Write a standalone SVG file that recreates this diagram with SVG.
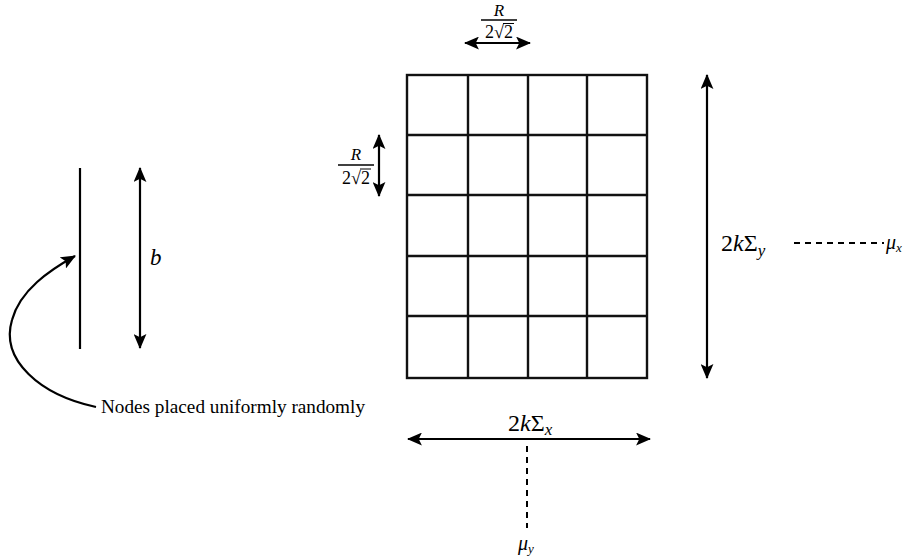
<svg xmlns="http://www.w3.org/2000/svg" width="917" height="556" viewBox="0 0 917 556">
<style>
.ln{stroke:#000;stroke-width:2.2;fill:none}
.grid{stroke:#111;stroke-width:2.4;fill:none}
.dash{stroke:#000;stroke-width:2;fill:none;stroke-dasharray:6,5}
.t{font-family:"Liberation Serif","DejaVu Serif","Times New Roman",serif;fill:#000}
.m{font-family:"Liberation Serif","DejaVu Serif","Times New Roman",serif;font-style:italic;fill:#000}
.r{font-family:"Liberation Serif","DejaVu Serif","Times New Roman",serif;fill:#000}
</style>
<defs>
<marker id="ahb" viewBox="0 0 14 12" refX="13" refY="6" markerWidth="15" markerHeight="13" markerUnits="userSpaceOnUse" orient="auto-start-reverse">
<path d="M0,0 L14,6 L0,12 L3,6 Z" fill="#000"/>
</marker>
</defs>
<g id="grid">
<rect class="grid" x="407" y="75" width="240" height="303"/>
<path class="grid" d="M468,75V378M528,75V378M587,75V378M407,135H647M407,195H647M407,256H647M407,316H647"/>
</g>
<g id="nodes-line">
<line class="ln" x1="80" y1="168" x2="80" y2="349"/>
</g>
<g id="label-nodes">
<text class="t" x="101" y="413" font-size="18" textLength="264" lengthAdjust="spacingAndGlyphs">Nodes placed uniformly randomly</text>
</g>
<g id="connectors">
<line class="ln" x1="140" y1="168" x2="140" y2="348" marker-start="url(#ahb)" marker-end="url(#ahb)"/>
<path class="ln" d="M96,407 C40,395 0,360 12,320 C20,290 50,270 75,256" marker-end="url(#ahb)"/>
<line class="ln" x1="465" y1="43" x2="530" y2="43" marker-start="url(#ahb)" marker-end="url(#ahb)"/>
<line class="ln" x1="379" y1="135" x2="379" y2="196" marker-start="url(#ahb)" marker-end="url(#ahb)"/>
<line class="ln" x1="707" y1="75" x2="707" y2="378" marker-start="url(#ahb)" marker-end="url(#ahb)"/>
<line class="ln" x1="408" y1="439" x2="650" y2="439" marker-start="url(#ahb)" marker-end="url(#ahb)"/>
<line class="dash" x1="794" y1="243" x2="884" y2="243"/>
<line class="dash" x1="527" y1="446" x2="527" y2="528"/>
</g>
<g id="labels">
<text class="m" x="150" y="265" font-size="23">b</text>
<g id="frac-top">
<text class="m" x="499" y="16" font-size="17" text-anchor="middle">R</text>
<line x1="481" y1="20" x2="517" y2="20" stroke="#000" stroke-width="1.3"/>
<text class="r" x="499" y="38" font-size="18" text-anchor="middle">2√2</text>
<line x1="503" y1="23.5" x2="514" y2="23.5" stroke="#000" stroke-width="1"/>
</g>
<g id="frac-left">
<text class="m" x="356" y="160" font-size="17" text-anchor="middle">R</text>
<line x1="338" y1="165" x2="374" y2="165" stroke="#000" stroke-width="1.3"/>
<text class="r" x="356" y="184" font-size="18" text-anchor="middle">2√2</text>
<line x1="360" y1="169" x2="371" y2="169" stroke="#000" stroke-width="1"/>
</g>
<text class="r" x="721" y="251" font-size="24">2<tspan font-style="italic">k</tspan>Σ<tspan font-style="italic" font-size="17" dy="5">y</tspan></text>
<text class="m" x="886" y="249" font-size="20">μ<tspan font-size="13" dy="3">x</tspan></text>
<text class="m" x="518" y="550" font-size="20">μ<tspan font-size="13" dy="3">y</tspan></text>
<text class="r" x="508" y="431" font-size="24">2<tspan font-style="italic">k</tspan>Σ<tspan font-style="italic" font-size="17" dy="4">x</tspan></text>
</g>
</svg>
